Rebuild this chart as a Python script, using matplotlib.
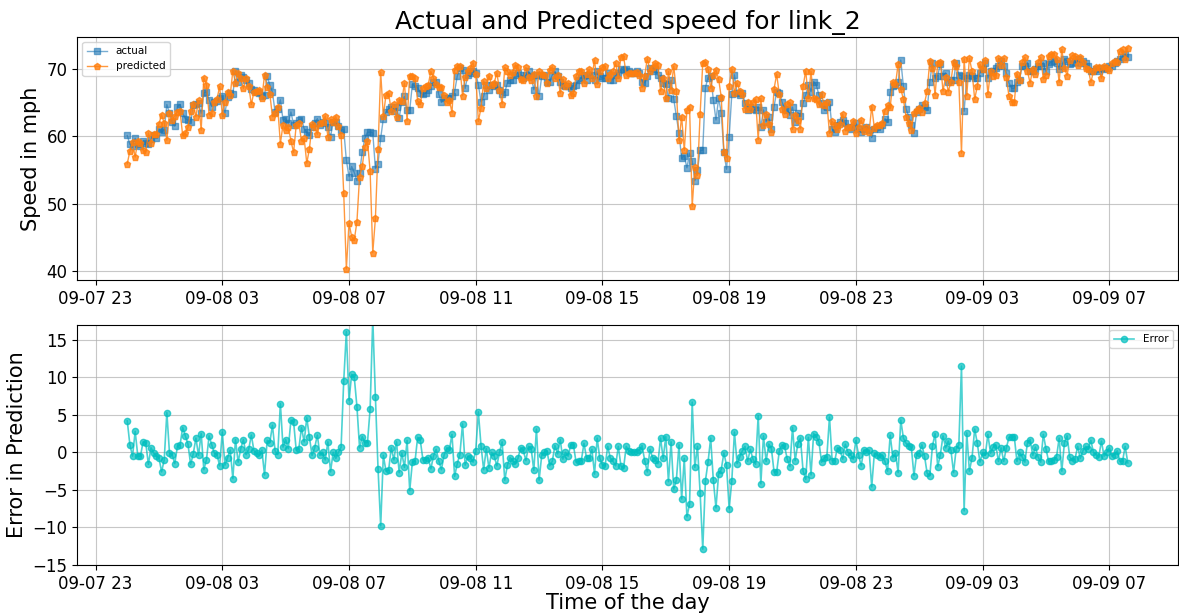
import matplotlib
matplotlib.use('Agg')
import matplotlib.pyplot as plt
import matplotlib.dates as mdates
import numpy as np
import pandas as pd

# 5-minute readings for link_2, starting 09-08 00:00
actual = [
    60.1, 58.8, 58.6, 59.7, 58.8, 58.5, 59.3, 59.0, 58.9, 59.6, 60.2, 59.8,
    61.1, 60.6, 60.9, 64.7, 63.4, 62.1, 61.5, 64.4, 64.7, 63.4, 62.6, 62.4,
    62.1, 64.6, 64.8, 64.9, 63.4, 66.4, 66.6, 65.4, 64.4, 65.0, 65.2, 65.6,
    65.9, 63.4, 65.8, 66.4, 66.2, 69.6, 68.1, 69.1, 68.8, 68.3, 67.9, 67.0,
    66.8, 66.6, 66.4, 65.9, 66.1, 68.9, 67.6, 66.5, 63.6, 64.0, 65.4, 62.4,
    62.6, 61.9, 63.6, 61.7, 61.9, 62.4, 62.6, 61.1, 60.6, 60.1, 61.4, 61.9,
    62.6, 61.6, 62.1, 62.0, 61.3, 59.9, 62.1, 62.1, 61.5, 60.9, 61.0, 56.4,
    54.0, 55.5, 54.6, 53.4, 54.6, 57.6, 59.7, 60.6, 60.6, 60.5, 55.2, 55.9,
    59.7, 62.6, 63.6, 64.0, 64.3, 63.7, 64.3, 62.7, 65.1, 65.9, 63.9, 63.9,
    67.7, 67.4, 67.2, 66.4, 66.2, 66.4, 66.9, 67.4, 68.1, 68.1, 66.2, 65.0,
    65.7, 65.7, 65.7, 65.9, 66.6, 68.9, 70.1, 69.8, 67.1, 69.1, 69.4, 69.6,
    69.4, 67.6, 65.1, 65.9, 67.6, 66.9, 67.6, 67.4, 67.6, 66.9, 66.2, 66.5,
    67.9, 68.4, 68.4, 69.1, 69.4, 69.1, 68.6, 69.1, 69.6, 68.9, 66.9, 69.1,
    65.9, 68.9, 69.1, 68.1, 68.0, 69.1, 69.6, 68.9, 68.1, 67.6, 67.4, 67.4,
    67.1, 67.4, 67.6, 68.4, 68.6, 69.1, 68.4, 69.1, 69.1, 68.4, 69.6, 68.9,
    68.6, 68.6, 69.4, 68.4, 68.4, 69.1, 69.4, 70.0, 69.8, 69.9, 69.6, 69.4,
    69.4, 69.6, 69.4, 68.1, 67.9, 68.9, 70.1, 69.6, 69.9, 69.1, 68.6, 67.9,
    67.7, 65.7, 68.3, 65.5, 63.0, 60.4, 56.7, 57.1, 55.3, 57.5, 56.3, 53.4,
    55.0, 57.9, 57.9, 67.2, 68.7, 69.0, 65.4, 62.4, 65.6, 63.5, 57.6, 55.1,
    59.9, 66.2, 69.1, 66.4, 66.1, 66.4, 64.9, 63.9, 64.4, 64.1, 63.9, 64.4,
    61.4, 63.9, 62.1, 62.9, 61.1, 64.4, 66.6, 66.4, 65.1, 64.1, 63.9, 63.1,
    64.3, 62.1, 63.5, 63.0, 64.9, 66.1, 67.6, 66.6, 68.1, 67.6, 66.1, 64.9,
    63.9, 64.4, 65.1, 61.1, 60.6, 61.6, 62.1, 62.4, 61.9, 61.4, 61.1, 61.4,
    62.0, 61.1, 60.6, 61.1, 61.4, 60.9, 59.8, 61.1, 61.4, 61.1, 61.6, 62.6,
    62.1, 66.6, 67.4, 67.6, 68.0, 71.3, 67.4, 64.1, 62.9, 61.6, 60.4, 63.6,
    64.1, 64.6, 64.4, 63.9, 68.1, 70.9, 68.6, 69.0, 70.7, 68.9, 69.4, 68.1,
    68.4, 68.3, 70.9, 69.1, 69.0, 63.7, 68.6, 69.1, 68.9, 68.6, 68.6, 69.4,
    69.9, 70.9, 68.6, 69.6, 69.6, 70.1, 70.4, 71.2, 70.4, 69.4, 67.9, 67.1,
    67.1, 68.1, 68.4, 70.4, 70.4, 70.9, 69.6, 69.6, 69.9, 70.4, 70.4, 70.9,
    69.6, 70.7, 71.0, 71.2, 70.9, 69.9, 70.4, 71.4, 71.2, 70.7, 70.9, 71.0,
    71.4, 70.9, 71.2, 70.9, 70.4, 69.6, 69.6, 69.9, 69.6, 70.1, 69.9, 70.1,
    70.4, 70.4, 70.9, 71.2, 71.4, 71.7, 72.2, 71.7,
]

# actual minus predicted
error = [
    4.2, 1.0, -0.5, 2.8, -0.5, -0.5, 1.4, 1.3, -1.6, 0.6, -0.1, -0.5,
    -0.7, -2.6, -1.0, 5.3, -0.1, -0.3, -1.5, 0.8, 1.0, 3.3, 2.2, 1.1,
    -1.6, -0.2, 1.9, -0.4, 2.5, -2.3, -1.0, 2.2, 1.0, -0.1, -0.3, -1.8,
    2.7, -1.7, -0.7, 0.3, -3.5, 1.7, -1.3, 0.5, 1.7, -0.3, 0.4, 2.3,
    0.2, -0.1, -0.4, 0.3, -3.0, 1.6, 1.3, 3.6, 0.2, -0.3, 6.5, 0.7,
    1.7, 0.5, 4.3, 4.1, 0.3, 0.5, 3.3, 1.4, 4.6, 2.0, -0.4, 0.6,
    2.3, -0.4, 0.0, -1.0, 1.4, -2.6, 0.0, -0.8, 0.0, 0.7, 9.5, 16.1,
    6.9, 10.4, 10.0, 6.1, 0.6, 2.1, 1.3, 1.3, 5.8, 17.8, 7.4, -2.2,
    -9.8, -0.4, -2.5, -2.4, 0.6, -1.0, 1.4, -2.7, -0.1, -2.0, 1.6, -5.1,
    -1.3, -1.2, 2.0, 1.6, -1.0, -1.0, -0.7, -2.2, -0.5, 0.4, -1.1, -2.3,
    -0.4, 0.6, 0.3, 2.4, -3.2, -1.5, -0.3, 3.8, -1.7, -0.5, -0.7, -1.3,
    0.2, 5.4, 0.9, -2.3, 0.5, -2.1, 0.0, -0.5, -1.8, 0.0, 1.4, -3.7,
    -1.7, -0.7, -1.1, -1.5, -0.8, 0.6, 0.3, -1.1, 0.8, 0.5, -2.4, 3.1,
    -3.7, -0.4, 0.0, 0.2, -1.8, -1.2, 0.9, -0.2, 1.7, -0.9, 0.0, -0.5,
    1.0, 1.0, -1.3, -1.2, -1.1, 1.2, -0.8, -0.8, 0.4, -2.9, 1.9, -0.8,
    -1.7, -1.8, 0.8, -0.8, -1.2, -1.8, 0.8, -1.8, -2.1, 0.8, 0.2, 0.0,
    0.0, 0.1, 0.3, 0.9, -1.1, -2.6, 0.4, -0.7, -1.0, -1.5, 1.9, -0.8,
    2.1, -3.9, 1.4, -4.9, -3.7, 1.0, -6.2, -0.8, -8.6, -6.9, 6.7, -2.0,
    0.8, -5.4, -12.9, -3.8, -1.3, 1.9, -3.7, -7.4, -2.9, -2.3, -0.1, -1.7,
    -7.5, -3.8, 2.7, -1.5, -0.6, 0.2, 0.8, -1.2, 0.4, -0.9, -1.6, 4.9,
    -4.2, 2.2, -1.2, 1.1, 0.5, -2.6, -2.6, 0.2, 1.0, 0.8, -0.9, -1.9,
    3.3, -1.1, 1.1, 1.9, -2.5, -3.6, 2.0, -3.0, 2.5, 2.1, 1.4, -1.3,
    -0.7, -0.6, 4.7, -1.1, -1.1, 0.6, 0.3, -0.9, 1.1, 0.0, -0.3, -0.9,
    1.6, -0.3, -1.8, 0.3, 0.1, 0.3, -4.6, -0.1, -0.3, -0.6, -0.4, -1.2,
    -2.5, 2.3, -0.7, -0.1, -2.7, 4.3, 1.9, 1.2, 0.9, 0.7, -3.1, -0.3,
    -0.1, 1.0, -0.5, -2.8, -3.1, 0.8, 2.5, -1.9, -0.3, 2.2, 0.6, 1.5,
    0.3, -2.7, 0.5, 1.0, 11.5, -7.8, 2.6, -2.5, -0.7, 3.1, 1.2, -1.3,
    0.0, -0.4, 2.4, -0.1, 0.7, 1.0, -1.2, 0.6, -1.2, 0.6, 2.0, 2.0,
    2.1, -1.2, 0.0, -0.6, -1.3, 1.3, 1.7, -0.4, 0.7, -0.6, -1.3, 2.4,
    0.5, -1.2, -1.2, -1.0, -0.6, 1.9, -2.5, 1.3, 2.2, -0.6, -1.1, -0.9,
    0.8, -0.8, 0.2, 0.8, 0.4, 1.6, 0.0, -0.3, -0.6, 1.5, -0.5, 0.0,
    0.6, -0.5, -0.3, 0.2, -1.2, -1.2, 0.8, -1.4,
]

times = pd.date_range('2018-09-08 00:00', periods=len(actual), freq='5min')
actual = np.array(actual)
error = np.array(error)
predicted = actual - error

fig = plt.figure(figsize=(11.79, 6.14), dpi=100)
ax1 = fig.add_axes([0.0655, 0.544, 0.9335, 0.396])
ax2 = fig.add_axes([0.0655, 0.080, 0.9335, 0.391], sharex=ax1)

ax1.plot(times, actual, marker='s', markersize=4, linewidth=1, color='C0', alpha=0.6, label='actual')
ax1.plot(times, predicted, marker='p', markersize=4.5, linewidth=1, color='C1', alpha=0.8, label='predicted')
ax1.set_title('Actual and Predicted speed for link_2', fontsize=18)
ax1.set_ylabel('Speed in mph', fontsize=15)
ax1.legend(loc='upper left', fontsize=7.5)

ax2.plot(times, error, marker='o', markersize=4.5, linewidth=1.2, color='c', alpha=0.7, label='Error')
ax2.set_ylabel('Error in Prediction', fontsize=15)
ax2.set_xlabel('Time of the day', fontsize=15, labelpad=0)
ax2.set_ylim(-15, 17)
ax2.legend(loc='upper right', fontsize=7.5)

for ax in (ax1, ax2):
    ax.grid(True, color='#b0b0b0', alpha=0.7)
    ax.xaxis.set_major_locator(mdates.HourLocator(byhour=[3, 7, 11, 15, 19, 23]))
    ax.xaxis.set_major_formatter(mdates.DateFormatter('%m-%d %H'))
    ax.tick_params(labelsize=12)
    ax.tick_params(axis='x', labelbottom=True)

fig.savefig('out.png', dpi=100)
